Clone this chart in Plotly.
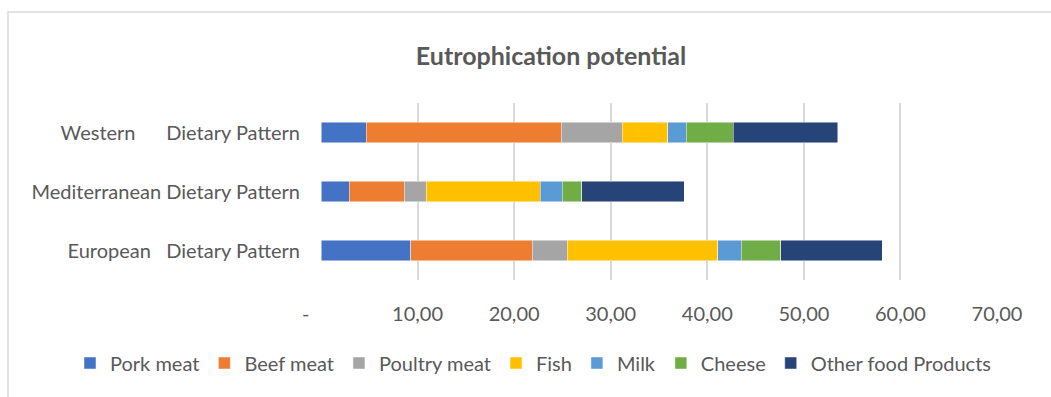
import plotly.graph_objects as go

NB = "\u00a0"
categories = [
    "European" + NB * 3 + "Dietary Pattern",
    "Mediterranean Dietary Pattern",
    "Western" + NB * 6 + "Dietary Pattern",
]
series_names = ["Pork meat", "Beef meat", "Poultry meat", "Fish", "Milk", "Cheese", "Other food Products"]
# values per series: [European, Mediterranean, Western]
pork = [9.3, 2.9, 4.7]
beef = [12.6, 5.7, 20.2]
poultry = [3.6, 2.3, 6.3]
fish = [15.6, 11.8, 4.7]
milk = [2.4, 2.3, 1.9]
cheese = [4.1, 2.0, 4.9]
other = [10.5, 10.6, 10.8]
colors = ["#4472C4", "#ED7D31", "#A5A5A5", "#FFC000", "#5B9BD5", "#70AD47", "#264478"]
tick_vals = [0, 10, 20, 30, 40, 50, 60, 70]
tick_text = ["-" + NB * 6, "10,00", "20,00", "30,00", "40,00", "50,00", "60,00", "70,00"]

W, H = 1051, 397
ML, MR, MT, MB = 321, 54, 103, 117
FONT = "Lato"
TXT = "#595959"
FS = 20

fig = go.Figure()
for name, vals, col in zip(series_names, [pork, beef, poultry, fish, milk, cheese, other], colors):
    fig.add_trace(go.Bar(
        y=categories, x=vals, name=name, orientation="h",
        marker=dict(color=col, line=dict(color="rgba(255,255,255,0.6)", width=0.8)),
    ))

pw = W - ML - MR
ph = H - MT - MB
def px2x(p):
    return (p - ML) / pw
def py2y(p):
    return (H - MB - p) / ph

fig.add_shape(type="rect", xref="paper", yref="paper",
              x0=px2x(8), x1=px2x(W + 20), y0=py2y(12), y1=py2y(H + 20),
              line=dict(color="#d9d9d9", width=1.5), fillcolor="rgba(0,0,0,0)", layer="below")

fig.update_layout(
    width=W, height=H, barmode="stack", bargap=0.65,
    margin=dict(l=ML, r=MR, t=MT, b=MB, autoexpand=False),
    paper_bgcolor="white", plot_bgcolor="white",
    font=dict(family=FONT, size=FS, color=TXT),
    title=dict(text="<b>Eutrophication potential</b>", xref="container", yref="container",
               x=551 / W, xanchor="center", y=1 - 56 / H, yanchor="middle",
               font=dict(family=FONT, size=25, color=TXT)),
    legend=dict(orientation="h", xref="paper", yref="paper",
                x=px2x(70), xanchor="left", y=py2y(363), yanchor="middle",
                font=dict(family=FONT, size=FS, color=TXT), traceorder="normal",
                bgcolor="rgba(0,0,0,0)"),
    xaxis=dict(range=[0, 70], tickvals=tick_vals, ticktext=tick_text,
               showgrid=True, gridcolor="#d9d9d9", gridwidth=1.5, zeroline=False,
               showline=False, ticks="", ticklabelstandoff=20,
               tickfont=dict(family=FONT, size=FS, color=TXT)),
    yaxis=dict(showgrid=False, zeroline=False, showline=False, ticks="",
               ticklabelstandoff=20, tickfont=dict(family=FONT, size=FS, color=TXT)),
    showlegend=True,
)
fig.write_html("out.html")
